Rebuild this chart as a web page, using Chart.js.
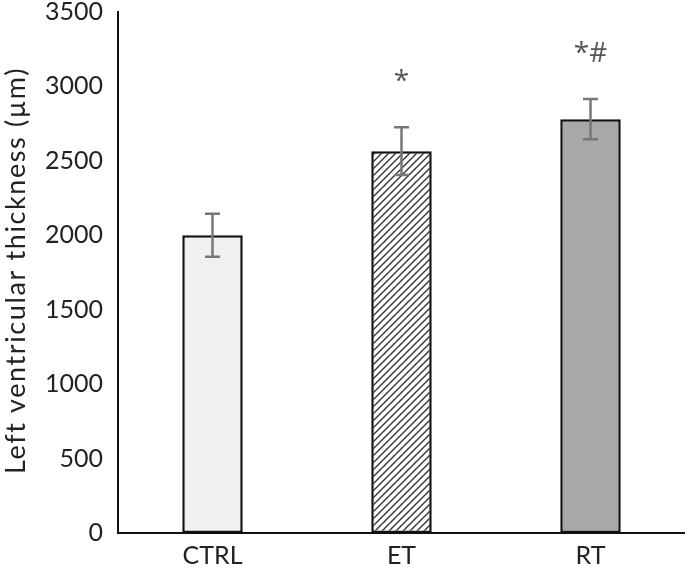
<!DOCTYPE html>
<html>
<head>
<meta charset="utf-8">
<script src="https://cdn.jsdelivr.net/npm/chart.js@4"></script>
<style>
  html, body { margin: 0; padding: 0; background: #fff; overflow: hidden; }
  #wrap { position: relative; width: 685px; height: 568px; overflow: hidden; }
  #chart { position: absolute; left: 0; top: -18px; }
</style>
</head>
<body>
<div id="wrap"><canvas id="chart" width="685" height="586"></canvas></div>
<script>
// values
const groups = ["CTRL", "ET", "RT"];
const thickness = [2000, 2565, 2780];
const errors = [145, 160, 135];
const marks = ["", "*", "*#"];
const yTicks = [0, 500, 1000, 1500, 2000, 2500, 3000, 3500];
const yTitle = "Left ventricular thickness (µm)";

const FONT = "Lato, 'Open Sans', sans-serif";

function hatch() {
    const c = document.createElement("canvas");
    c.width = 7;
    c.height = 7;
    const g = c.getContext("2d");
    g.fillStyle = "#fff";
    g.fillRect(0, 0, 7, 7);
    g.strokeStyle = "#333";
    g.lineWidth = 1.4;
    g.beginPath();
    // "/" direction, repeated over tile corners
    g.moveTo(-1, 8); g.lineTo(8, -1);
    g.moveTo(-1, 1); g.lineTo(1, -1);
    g.moveTo(6, 8); g.lineTo(8, 6);
    g.stroke();
    return g.createPattern(c, "repeat");
}

const ctx = document.getElementById("chart").getContext("2d");

// error bars, significance marks and the spaced-out y title
const extras = {
    id: "extras",
    afterDatasetsDraw(chart) {
        const x = chart.scales.x, y = chart.scales.y;
        const c = chart.ctx;
        c.save();
        c.strokeStyle = "#777";
        c.lineWidth = 2.5;
        thickness.forEach((v, i) => {
            const cx = x.getPixelForValue(i);
            const top = y.getPixelForValue(v + errors[i]);
            const bot = y.getPixelForValue(v - errors[i]);
            c.beginPath();
            c.moveTo(cx, top); c.lineTo(cx, bot);
            c.moveTo(cx - 7.5, top); c.lineTo(cx + 7.5, top);
            c.moveTo(cx - 7.5, bot); c.lineTo(cx + 7.5, bot);
            c.stroke();
            if (marks[i]) {
                c.fillStyle = "#555";
                c.font = "28px 'Open Sans', sans-serif";
                c.textAlign = "center";
                c.textBaseline = "alphabetic";
                c.fillText(marks[i], cx, top - 37);
            }
        });
        c.restore();

        c.save();
        c.translate(16, (y.top + y.bottom) / 2 - 2);
        c.rotate(-Math.PI / 2);
        c.font = "27px " + FONT;
        c.letterSpacing = "1.6px";
        c.fillStyle = "#222";
        c.textAlign = "center";
        c.textBaseline = "middle";
        c.fillText(yTitle, 0, 0);
        c.restore();
    }
};

new Chart(ctx, {
    type: "bar",
    data: {
        labels: groups,
        datasets: [{
            data: thickness,
            backgroundColor: ["#f0f0f0", hatch(), "#a8a8a8"],
            borderColor: "#111",
            borderWidth: 2.5,
            borderSkipped: false,
            categoryPercentage: 1,
            barPercentage: 0.32,
        }]
    },
    options: {
        responsive: false,
        animation: false,
        layout: { padding: 0 },
        plugins: { legend: { display: false }, tooltip: { enabled: false } },
        scales: {
            x: {
                grid: { display: false, drawTicks: false },
                border: { color: "#111", width: 2 },
                ticks: { color: "#222", font: { family: FONT, size: 25 }, padding: 8 },
                afterFit(s) { s.height = 35; }
            },
            y: {
                min: 0,
                max: 3500,
                afterBuildTicks(s) { s.ticks = yTicks.map(v => ({ value: v })); },
                grid: { display: false, drawTicks: false },
                border: { color: "#111", width: 2 },
                ticks: {
                    color: "#222",
                    font: { family: FONT, size: 25 },
                    padding: 15,
                    callback: (v) => String(v)
                },
                afterFit(s) { s.width = 118; }
            }
        }
    },
    plugins: [extras]
});
</script>
</body>
</html>
